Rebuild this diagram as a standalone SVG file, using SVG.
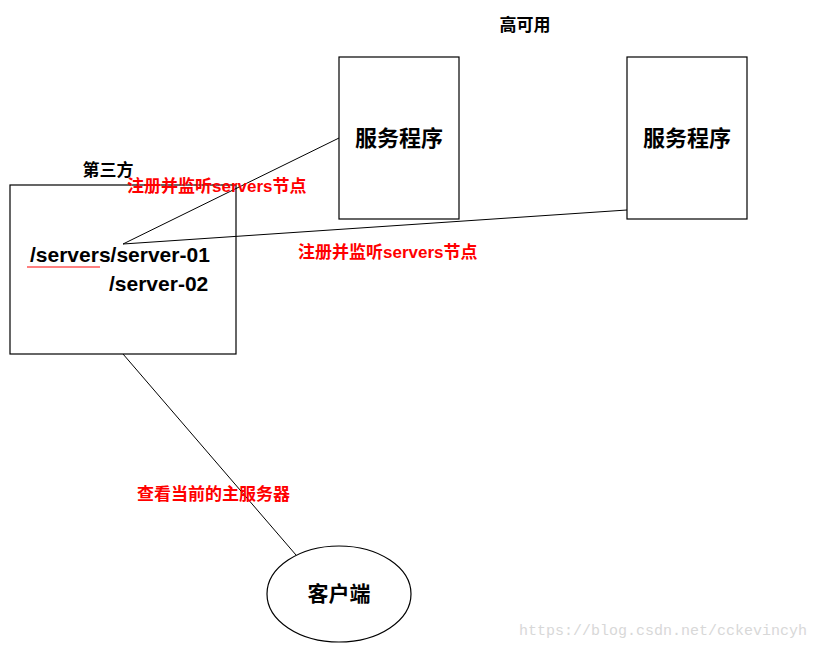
<svg xmlns="http://www.w3.org/2000/svg" width="819" height="649" viewBox="0 0 819 649">
<style>
.b{fill:#fff;stroke:#000;stroke-width:1.2}
.l{stroke:#000;stroke-width:1;fill:none}
.t{font-family:"Liberation Sans","Noto Sans CJK SC",sans-serif;font-weight:bold;fill:#000}
.r{font-family:"Liberation Sans","Noto Sans CJK SC",sans-serif;font-weight:bold;fill:#f00;font-size:17px}
</style>
<rect width="819" height="649" fill="#fff"/>
<text class="t" x="525" y="31" font-size="17" text-anchor="middle">高可用</text>
<g id="third"><rect class="b" x="10" y="185" width="226" height="169"/>
<text class="t" x="108" y="176" font-size="17" text-anchor="middle">第三方</text>
<text class="t" x="30" y="262" font-size="21">/servers/server-01</text>
<text class="t" x="109" y="291" font-size="21">/server-02</text>
<line x1="27" y1="267" x2="100" y2="267" stroke="#f00" stroke-width="1.2"/></g>
<g id="svc1"><rect class="b" x="339" y="57" width="120" height="162"/>
<text class="t" x="399" y="146" font-size="22" text-anchor="middle">服务程序</text></g>
<g id="svc2"><rect class="b" x="627" y="57" width="120" height="162"/>
<text class="t" x="687" y="146" font-size="22" text-anchor="middle">服务程序</text></g>
<g id="client"><ellipse class="b" cx="339" cy="594" rx="72" ry="48"/>
<text class="t" x="339" y="601" font-size="21" text-anchor="middle">客户端</text></g>
<g id="connectors">
<line class="l" x1="123" y1="244" x2="339" y2="138"/>
<line class="l" x1="123" y1="244" x2="627" y2="210"/>
<line class="l" x1="123" y1="354" x2="296" y2="555"/>
</g>
<text class="r" x="127" y="192">注册并监听servers节点</text>
<text class="r" x="298" y="258">注册并监听servers节点</text>
<text class="r" x="137" y="500">查看当前的主服务器</text>
<text x="807" y="635" font-family="Liberation Mono,monospace" font-size="15" fill="#d8d8d8" text-anchor="end">https://blog.csdn.net/cckevincyh</text>
</svg>
